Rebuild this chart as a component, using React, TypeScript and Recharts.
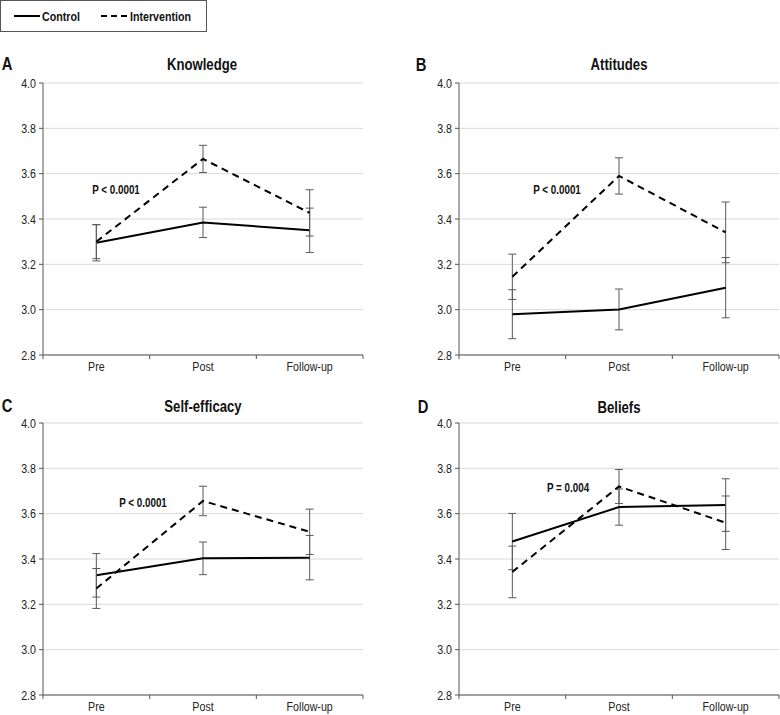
import { LineChart, Line, XAxis, YAxis, CartesianGrid, ErrorBar } from "recharts";

const categories = ["Pre", "Post", "Follow-up"];
const yTicks = [2.8, 3.0, 3.2, 3.4, 3.6, 3.8, 4.0];

const knowledgeControl = [3.295, 3.385, 3.35];
const knowledgeControlErr = [0.08, 0.067, 0.098];
const knowledgeIntervention = [3.3, 3.665, 3.427];
const knowledgeInterventionErr = [0.075, 0.06, 0.102];

const attitudesControl = [2.98, 3.001, 3.097];
const attitudesControlErr = [0.108, 0.09, 0.133];
const attitudesIntervention = [3.145, 3.59, 3.341];
const attitudesInterventionErr = [0.1, 0.08, 0.134];

const selfEfficacyControl = [3.328, 3.403, 3.406];
const selfEfficacyControlErr = [0.096, 0.072, 0.098];
const selfEfficacyIntervention = [3.27, 3.656, 3.52];
const selfEfficacyInterventionErr = [0.088, 0.065, 0.1];

const beliefsControl = [3.477, 3.629, 3.638];
const beliefsControlErr = [0.124, 0.08, 0.116];
const beliefsIntervention = [3.343, 3.72, 3.56];
const beliefsInterventionErr = [0.114, 0.075, 0.118];

// no narrow font installed, so squeeze Liberation Sans horizontally
const FONT = "'Liberation Sans', Arial, sans-serif";
const SQUEEZE = 0.82;

function rows(c: number[], ce: number[], t: number[], te: number[]) {
  return categories.map((name, i) => ({
    time: name,
    control: c[i],
    controlErr: ce[i],
    intervention: t[i],
    interventionErr: te[i],
  }));
}

// label at band centre, tick marks at the band edges (Excel style)
function CategoryTick(props: any) {
  const { x, y, payload, index, width, visibleTicksCount } = props;
  const n = visibleTicksCount || categories.length;
  const half = (width || 320) / (2 * n);
  const axisY = y - 6;
  return (
    <g>
      <line x1={x - half} x2={x - half} y1={axisY} y2={axisY + 4} stroke="#555" />
      {index === n - 1 && (
        <line x1={x + half} x2={x + half} y1={axisY} y2={axisY + 4} stroke="#555" />
      )}
      <text
        transform={`translate(${x},${y}) scale(${SQUEEZE},1)`}
        dy="0.8em"
        textAnchor="middle"
        fill="#222"
        fontSize={13}
        fontFamily={FONT}
      >
        {payload.value}
      </text>
    </g>
  );
}

function ValueTick(props: any) {
  const { x, y, payload } = props;
  return (
    <text
      transform={`translate(${x},${y}) scale(${SQUEEZE},1)`}
      dy="0.36em"
      textAnchor="end"
      fill="#222"
      fontSize={13}
      fontFamily={FONT}
    >
      {Number(payload.value).toFixed(1)}
    </text>
  );
}

interface PanelProps {
  data: ReturnType<typeof rows>;
  left: number;
  top: number;
  marginLeft: number;
  marginRight: number;
}

function Panel({ data, left, top, marginLeft, marginRight }: PanelProps) {
  return (
    <div style={{ position: "absolute", left, top }}>
      <LineChart
        width={390}
        height={325}
        data={data}
        margin={{ top: 33, right: marginRight, bottom: 0, left: marginLeft }}
      >
        <CartesianGrid vertical={false} stroke="#d9d9d9" strokeWidth={1} />
        <XAxis
          dataKey="time"
          scale="band"
          height={20}
          stroke="#555"
          tickLine={false}
          tickSize={4}
          tickMargin={2}
          tick={<CategoryTick />}
          interval={0}
        />
        <YAxis
          domain={[2.8, 4.0]}
          ticks={yTicks}
          width={43}
          stroke="#555"
          tickSize={4}
          tickMargin={3}
          tick={<ValueTick />}
          allowDataOverflow
        />
        <Line
          dataKey="control"
          stroke="#000"
          strokeWidth={2}
          dot={false}
          isAnimationActive={false}
        >
          <ErrorBar dataKey="controlErr" direction="y" width={4} stroke="#595959" strokeWidth={1} />
        </Line>
        <Line
          dataKey="intervention"
          stroke="#000"
          strokeWidth={2}
          strokeDasharray="7 5"
          dot={false}
          isAnimationActive={false}
        >
          <ErrorBar dataKey="interventionErr" direction="y" width={4} stroke="#595959" strokeWidth={1} />
        </Line>
      </LineChart>
    </div>
  );
}

function Txt({ x, y, children, size, anchor = "center" }: { x: number; y: number; children: string; size: number; anchor?: "center" | "left" }) {
  const tx = anchor === "center" ? "-50%" : "0";
  return (
    <div
      style={{
        position: "absolute",
        left: x,
        top: y,
        transform: `translate(${tx}, -50%) scaleX(${SQUEEZE})`,
        transformOrigin: anchor === "center" ? "center" : "left center",
        whiteSpace: "nowrap",
        fontFamily: FONT,
        fontSize: size,
        fontWeight: "bold",
        color: "#111",
        lineHeight: 1,
      }}
    >
      {children}
    </div>
  );
}

export default function App() {
  return (
    <div
      style={{
        position: "absolute",
        left: 0,
        top: 0,
        width: 780,
        height: 715,
        background: "#fff",
        overflow: "hidden",
        fontFamily: FONT,
      }}
    >
      {/* shared legend */}
      <div
        style={{
          position: "absolute",
          left: 0,
          top: 0,
          width: 205,
          height: 30,
          border: "1px solid #555",
        }}
      >
        <svg width={205} height={30} style={{ position: "absolute", left: 0, top: 0 }}>
          <line x1={13} x2={39} y1={15} y2={15} stroke="#000" strokeWidth={2} />
          <line x1={100} x2={126} y1={15} y2={15} stroke="#000" strokeWidth={2} strokeDasharray="6 4" />
        </svg>
      </div>
      <Txt x={42} y={16} size={13} anchor="left">Control</Txt>
      <Txt x={130} y={16} size={13} anchor="left">Intervention</Txt>

      <Panel
        data={rows(knowledgeControl, knowledgeControlErr, knowledgeIntervention, knowledgeInterventionErr)}
        left={0}
        top={50}
        marginLeft={0}
        marginRight={27}
      />
      <Panel
        data={rows(attitudesControl, attitudesControlErr, attitudesIntervention, attitudesInterventionErr)}
        left={390}
        top={50}
        marginLeft={26}
        marginRight={1}
      />
      <Panel
        data={rows(selfEfficacyControl, selfEfficacyControlErr, selfEfficacyIntervention, selfEfficacyInterventionErr)}
        left={0}
        top={390}
        marginLeft={0}
        marginRight={27}
      />
      <Panel
        data={rows(beliefsControl, beliefsControlErr, beliefsIntervention, beliefsInterventionErr)}
        left={390}
        top={390}
        marginLeft={26}
        marginRight={1}
      />

      <Txt x={7} y={64} size={18}>A</Txt>
      <Txt x={421} y={65} size={18}>B</Txt>
      <Txt x={7} y={406} size={18}>C</Txt>
      <Txt x={423} y={407} size={18}>D</Txt>

      <Txt x={202} y={65} size={16}>Knowledge</Txt>
      <Txt x={619} y={65} size={16}>Attitudes</Txt>
      <Txt x={203} y={407} size={16}>Self-efficacy</Txt>
      <Txt x={619} y={408} size={16}>Beliefs</Txt>

      <Txt x={116} y={190} size={12}>P &lt; 0.0001</Txt>
      <Txt x={557} y={190} size={12}>P &lt; 0.0001</Txt>
      <Txt x={143} y={503} size={12}>P &lt; 0.0001</Txt>
      <Txt x={568} y={488} size={12}>P = 0.004</Txt>
    </div>
  );
}
